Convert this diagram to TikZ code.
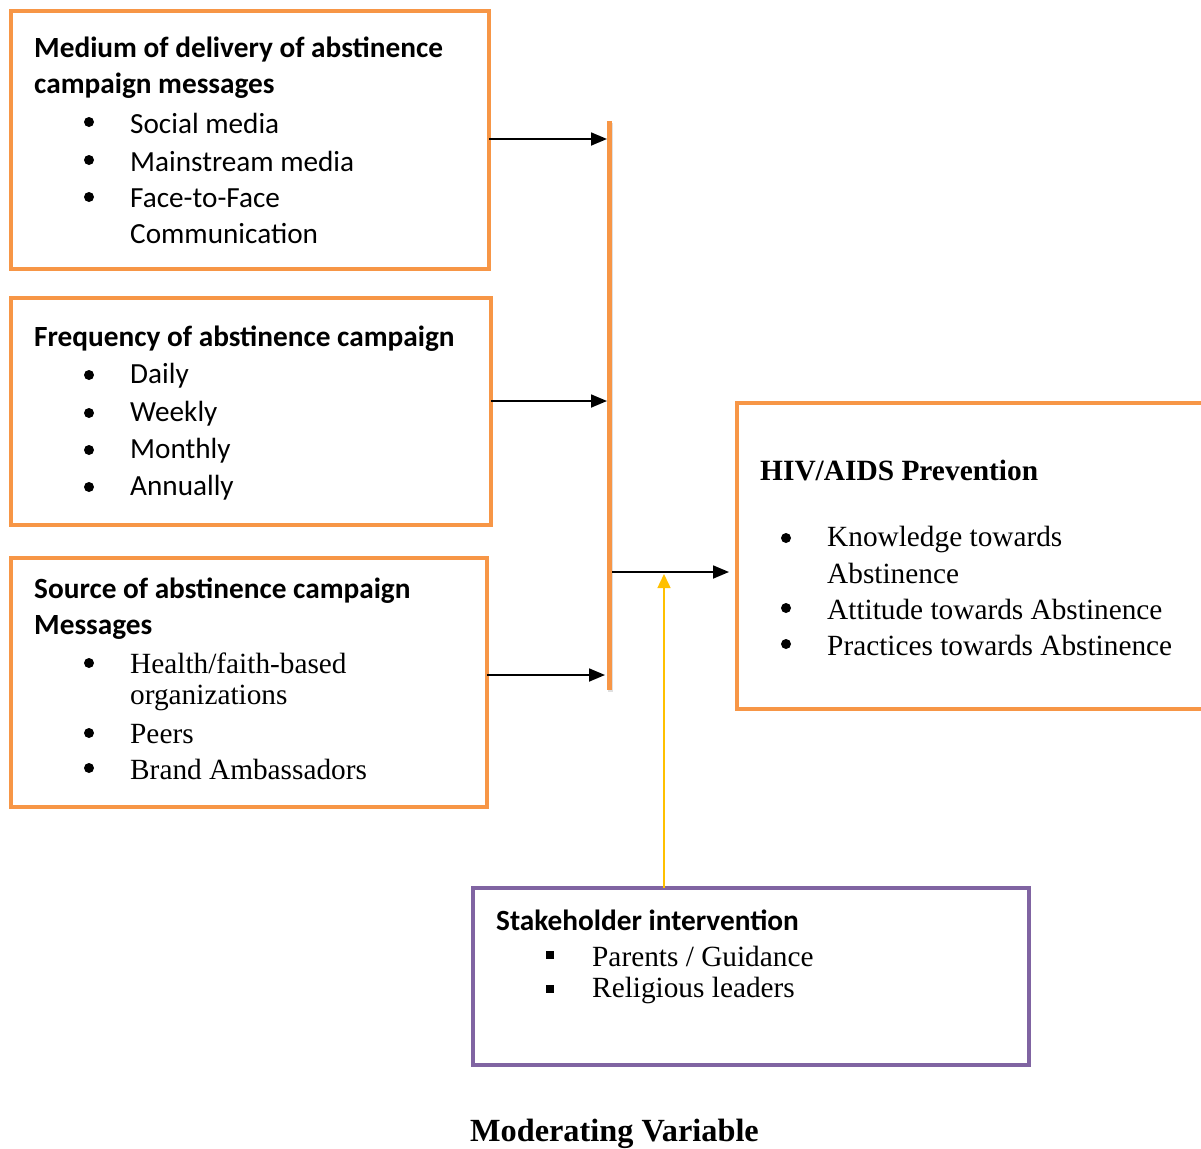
\documentclass[tikz,border=0pt]{standalone}
\usepackage{fontspec}
\setmainfont{Liberation Serif}
\newfontfamily\carlitofam{Carlito}
\usetikzlibrary{arrows.meta}
\definecolor{orng}{HTML}{F79646}
\definecolor{purp}{HTML}{8064A2}
\definecolor{gold}{HTML}{FFC000}
\tikzset{
  obox/.style={draw=orng, line width=4pt, minimum width=#1, anchor=north west, inner sep=0pt, outer sep=0pt},
  pbox/.style={draw=purp, line width=4pt, anchor=north west, inner sep=0pt, outer sep=0pt},
  head/.style={anchor=west, inner sep=0pt, font=\carlitofam\bfseries\fontsize{29.3}{33}\selectfont},
  citem/.style={anchor=west, inner sep=0pt, font=\carlitofam\fontsize{29.2}{33}\selectfont},
  titem/.style={anchor=west, inner sep=0pt, font=\fontsize{29.3}{33}\selectfont},
  thead/.style={anchor=west, inner sep=0pt, font=\bfseries\fontsize{29.4}{33}\selectfont},
  bul/.style={circle, fill=black, inner sep=0pt, minimum size=10pt},
  sqb/.style={fill=black, inner sep=0pt, minimum size=8pt},
  arr/.style={line width=1.8pt, -{Triangle[length=16pt,width=13pt]}},
}
\begin{document}
\begin{tikzpicture}[x=1pt,y=-1pt]
\useasboundingbox (0,0) rectangle (1201,1148);
\begin{scope}
\clip (0,0) rectangle (1201,1148);
% boxes
\node (b1) [obox=478pt, minimum height=258pt] at (11,11) {};
\node (b2) [obox=480pt, minimum height=227pt] at (11,298) {};
\node (b3) [obox=476pt, minimum height=249pt] at (11,558) {};
\node (hiv) [obox=500pt, minimum height=306pt] at (737,403) {};
\node (sh) [pbox, minimum width=556pt, minimum height=177pt] at (473,888) {};
% vertical bar
\draw[line width=5pt, black!12] (610.5,123) -- (610.5,692);
\draw[line width=5pt, orng] (609,121) coordinate (bartop) -- (609,690) coordinate (barbot);
\coordinate (a1) at (607,139);
\coordinate (a2) at (607,401);
\coordinate (a3) at (605,675);
\coordinate (m0) at (612,572);
\coordinate (yl) at (664,574);
% arrows
\draw[arr] (b1.east |- a1) -- (a1);
\draw[arr] (b2.east |- a2) -- (a2);
\draw[arr] (b3.east |- a3) -- (a3);
\draw[arr, shorten >=8pt] (m0) -- (hiv.west |- m0);
\draw[line width=1.5pt, gold, -{Triangle[length=14pt,width=13pt]}] (sh.north -| yl) -- (yl);
% box 1 text
\node (h1a) [head] at (34,50) {Medium of delivery of abstinence};
\node (h1b) [head] at (34,86) {campaign messages};
\node (d11) [bul] at (89,122) {}; \node (t11) [citem] at (130,123) {Social media};
\node (d12) [bul] at (89,160) {}; \node (t12) [citem] at (130,161) {Mainstream media};
\node (d13) [bul] at (89,197) {}; \node (t13) [citem] at (130,198) {Face-to-Face};
\node (t14) [citem] at (130,234) {Communication};
% box 2 text
\node (h2) [head] at (34,339) {Frequency of abstinence campaign};
\node (d21) [bul] at (89,375) {}; \node (t21) [citem] at (130,376) {Daily};
\node (d22) [bul] at (89,413) {}; \node (t22) [citem] at (130,414) {Weekly};
\node (d23) [bul] at (89,450) {}; \node (t23) [citem] at (130,451) {Monthly};
\node (d24) [bul] at (89,487) {}; \node (t24) [citem] at (130,488) {Annually};
% box 3 text
\node (h3a) [head] at (34,591) {Source of abstinence campaign};
\node (h3b) [head] at (34,627) {Messages};
\node (d31) [bul] at (89,663) {}; \node (t31) [titem] at (130,663) {Health/faith-based};
\node (t32) [titem] at (130,698) {organizations};
\node (d33) [bul] at (89,733) {}; \node (t33) [titem] at (130,734) {Peers};
\node (d34) [bul] at (89,768) {}; \node (t34) [titem] at (130,769) {Brand Ambassadors};
% HIV box text
\node (hh) [thead] at (760,471) {HIV/AIDS Prevention};
\node (d41) [bul] at (786,538) {}; \node (t41) [titem] at (827,539) {Knowledge towards};
\node (t42) [titem] at (827,573) {Abstinence};
\node (d43) [bul] at (786,608) {}; \node (t43) [titem] at (827,609) {Attitude towards Abstinence};
\node (d44) [bul] at (786,644) {}; \node (t44) [titem] at (827,645) {Practices towards Abstinence};
% stakeholder text
\node (hs) [head] at (496,920) {Stakeholder intervention};
\node (s1) [sqb] at (550,955) {}; \node (ts1) [titem] at (592,956) {Parents / Guidance};
\node (s2) [sqb] at (550,989) {}; \node (ts2) [titem] at (592,990) {Religious leaders};
% caption
\node (cap) [thead, font=\bfseries\fontsize{32.3}{36}\selectfont] at (470,1134) {Moderating Variable};
\end{scope}
\end{tikzpicture}
\end{document}
